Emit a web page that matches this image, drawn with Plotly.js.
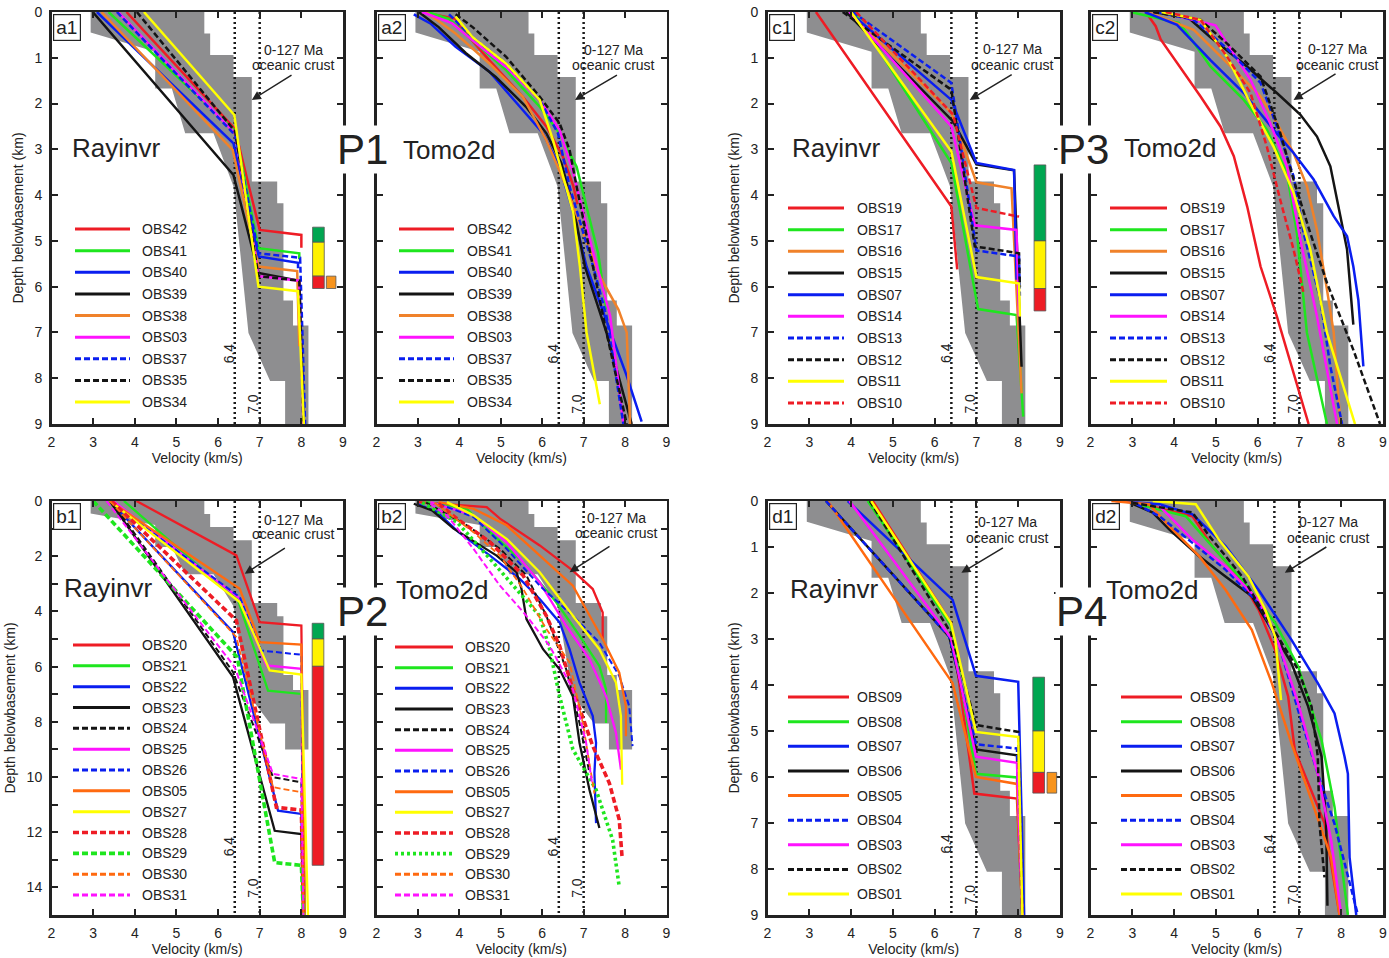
<!DOCTYPE html>
<html><head><meta charset="utf-8">
<script src="https://cdn.plot.ly/plotly-3.0.1.min.js"></script>
<style>html,body{margin:0;padding:0;background:#fff}#chart{width:1389px;height:958px}</style>
</head><body><div id="chart"></div>
<script>
// ---------------- DATA ----------------
// Envelope of 0-127 Ma oceanic crust (velocity km/s, depth km)
const envVel   = [2.94,5.67,5.67,5.81,5.81,6.37,6.37,6.81,6.81,7.42,7.42,7.57,7.57,7.80,7.80,8.17,8.17,7.61,7.61,7.25,6.73,6.37,5.89,5.21,4.89,4.49,4.49,2.94,2.94];
const envDepth = [0,0,0.47,0.47,0.94,0.94,1.42,1.42,3.70,3.70,4.18,4.18,6.30,6.30,6.85,6.85,9,9,8.06,8.06,7.01,3.81,2.65,2.65,1.67,1.67,0.87,0.45,0];
const refVel = [6.4, 7.0];

// P1 - Rayinvr (a1)
const a1Names = ['OBS42','OBS41','OBS40','OBS39','OBS38','OBS03','OBS37','OBS35','OBS34'];
const a1Vel = [
 [3.8,6.4,7.0,8.0,8.0],[3.37,6.41,6.97,7.95,7.95],[3.09,6.37,6.97,7.92,7.92],[2.99,6.37,6.97,7.95,8.06],
 [3.2,6.35,6.97,7.9,7.95],[3.6,6.41,6.97,7.95,8.05],[3.57,6.41,6.97,7.97,8.09],[4.05,6.41,6.97,7.95,8.05],[4.22,6.39,6.97,7.92,8.06]];
const a1Depth = [
 [0,2.55,4.76,4.87,5.15],[0,2.6,5.16,5.27,5.4],[0,2.87,5.34,5.48,5.6],[0,3.56,5.7,5.87,9],
 [0,3.01,5.56,5.66,7.3],[0,2.65,5.77,5.87,9],[0,2.69,5.27,5.37,9],[0,2.61,5.77,5.87,9],[0,2.25,6.0,6.1,9]];

// P1 - Tomo2d (a2)
const a2Names = a1Names;
const a2Vel = [
 [3.1,3.91,4.0,4.72,5.53,6.1,6.5,6.75,6.85],
 [3.23,3.75,4.32,5.13,5.94,6.42,6.83,7.07,7.35,7.55],
 [2.9,3.3,3.91,4.72,5.53,6.02,6.42,6.75,7.07,7.55,8.04,8.4],
 [3.02,3.5,4.16,4.88,5.61,6.1,6.46,6.75,7.03,7.55,8.16],
 [3.19,3.91,4.72,5.53,6.1,6.58,6.99,7.39,7.84,8.04,8.12],
 [3.1,3.83,4.32,5.13,5.94,6.42,6.75,7.15,7.64,7.96],
 [3.75,4.32,5.13,5.94,6.38,6.66,7.23,7.55,7.96],
 [3.91,4.32,5.13,5.94,6.42,6.66,6.83,7.23,7.55,8.04],
 [3.91,4.32,5.13,5.94,6.26,6.75,6.91,7.07,7.39]];
const a2Depth = [
 [0,0.15,0.3,1.05,1.85,2.5,3.16,3.8,4.2],
 [0,0.15,0.62,1.27,2.07,2.65,3.38,4.25,5.27,6.5],
 [0.05,0.25,0.76,1.3,2.14,2.65,3.38,4.39,5.56,6.72,7.95,8.95],
 [0,0.33,0.9,1.42,2.07,2.65,3.3,4.25,5.56,7.0,9],
 [0,0.47,1.12,1.85,2.8,3.81,4.83,5.77,6.5,7.0,9],
 [0,0.25,0.62,1.2,1.92,2.58,3.52,4.97,6.64,9],
 [0.05,0.55,1.13,1.92,2.65,3.81,5.56,6.64,9],
 [0.05,0.33,0.98,1.85,2.43,3.01,3.81,5.56,7.0,9],
 [0.1,0.55,1.13,1.92,2.8,4.39,5.56,7.0,8.57]];

// P3 - Rayinvr (c1)
const c1Names = ['OBS19','OBS17','OBS16','OBS15','OBS07','OBS14','OBS13','OBS12','OBS11','OBS10'];
const c1Vel = [
 [3.16,6.4,6.54],[4.08,6.4,7.04,7.96,8.12],[3.95,6.4,7.0,7.84,8.08],[3.88,6.44,7.0,7.9,8.08],[3.96,6.4,7.0,7.9,7.96],
 [3.96,6.4,6.96,7.96,8.02],[4.04,6.4,7.0,8.02,8.04],[3.8,6.4,6.96,8.02,8.04],[4.0,6.4,7.0,8.02,8.04],[4.12,6.44,7.0,8.02]];
const c1Depth = [
 [0,4.25,5.62],[0,3.3,6.49,6.62,8.84],[0,2.2,3.72,3.85,8.33],[0,2.39,3.33,3.46,7.75],[0,1.92,3.3,3.45,5.85],
 [0,2.5,4.66,4.76,6.65],[0,1.55,5.21,5.34,6.2],[0,1.7,5.12,5.27,6.0],[0,3.05,5.79,5.93,6.65],[0,2.24,4.28,4.47]];

// P3 - Tomo2d (c2)
const c2Names = c1Names;
const c2Vel = [
 [3.32,3.56,3.68,4.07,4.63,5.11,5.43,5.75,6.07,6.46,6.86,7.22],
 [2.96,4.11,4.31,4.87,5.67,6.22,6.7,6.94,7.18,7.66],
 [3.36,4.47,5.27,6.07,6.46,6.86,7.18,7.42,7.66,7.82,7.98],
 [3.52,4.35,4.87,5.67,6.46,7.02,7.42,7.74,7.98,8.14,8.29],
 [3.3,4.07,4.87,5.67,6.38,6.86,7.34,7.82,8.14,8.29,8.41,8.53],
 [3.68,4.99,5.27,5.83,6.3,6.7,7.02,7.42,7.9],
 [3.6,4.47,5.27,6.07,6.46,6.86,7.1,7.5,7.74,8.02],
 [3.5,4.63,5.27,6.07,6.54,6.86,7.26,7.66,8.29,8.93],
 [3.7,4.63,5.27,5.9,6.38,6.86,7.26,7.66,8.33],
 [3.8,4.63,5.27,5.83,6.22,6.54,6.86,7.1]];
const c2Depth = [
 [0,0.31,0.6,1.11,1.84,2.5,3.15,4.25,5.56,6.65,7.89,9],
 [0,0.24,0.46,1.19,1.92,2.57,3.52,4.83,7.01,9],
 [0,0.39,1.11,1.84,2.43,3.08,3.81,4.76,6.07,7.0,9],
 [0,0.13,0.55,1.13,1.77,2.24,2.72,3.37,4.46,5.19,6.83],
 [0,0.28,1.05,1.77,2.57,3.08,3.66,4.46,4.9,5.56,6.29,7.74],
 [0,0.29,0.69,1.48,2.43,3.37,4.97,6.65,9],
 [0,0.17,0.8,1.55,2.5,3.59,4.83,6.29,7.74,9],
 [0,0.17,0.69,1.41,2.64,3.66,4.83,5.92,7.38,9],
 [0,0.17,0.98,2.13,2.94,3.95,5.19,7.01,9],
 [0,0.17,0.98,1.77,2.94,4.1,5.19,6.14]];

// P2 - Rayinvr (b1)
const b1Names = ['OBS20','OBS21','OBS22','OBS23','OBS24','OBS25','OBS26','OBS05','OBS27','OBS28','OBS29','OBS30','OBS31'];
const b1Vel = [
 [4.04,6.44,7.0,8.0,8.08],[3.74,6.48,7.2,8.0,8.08],[3.4,6.36,7.44,8.0,8.05],[3.4,6.36,7.36,8.0,8.05],
 [3.44,6.36,7.32,8.0,8.05],[3.48,6.52,7.16,8.0,8.05],[3.4,6.52,7.04,8.0,8.05],[3.4,6.52,7.0,8.0,8.08],
 [3.4,6.52,7.24,8.0,8.16],[3.44,6.44,7.4,8.0,8.05],[3.0,6.46,7.36,8.0,8.05],[3.4,6.44,7.32,8.0,8.05],[3.32,6.4,7.32,8.0,8.05]];
const b1Depth = [
 [0,1.97,4.39,4.51,15],[0,3.6,6.87,6.99,15],[0,4.75,11.22,11.34,15],[0,6.38,11.95,12.07,15],
 [0,6.2,10.01,10.19,15],[0,3.54,5.96,6.08,15],[0,3.48,5.42,5.57,15],[0,3.18,5.11,5.2,15],
 [0,3.66,6.14,6.29,15],[0,4.33,11.1,11.2,15],[0,5.66,13.1,13.2,15],[0,4.93,10.37,10.55,15],[0,6.02,9.89,10.07,15]];

// P2 - Tomo2d (b2)
const b2Names = b1Names;
const b2Vel = [
 [2.98,4.66,4.98,5.94,6.74,7.22,7.46,7.46],
 [3.2,4.18,4.74,5.54,6.34,6.9,7.38,7.54,7.54],
 [2.98,3.46,3.98,4.74,5.46,5.94,6.42,6.66,6.9,7.22,7.3,7.26,7.3],
 [2.9,3.34,3.86,4.5,4.9,5.38,5.5,5.62,6.02,6.42,6.74,6.9,7.14,7.38],
 [3.2,4.18,4.98,5.62,6.1,6.58,6.9,7.14],
 [3.3,4.34,5.14,5.94,6.58,7.14,7.54,7.78,7.9],
 [3.5,4.34,5.14,5.94,6.74,7.38,7.86,8.1,8.18],
 [3.5,4.34,5.14,5.94,6.74,7.46,7.86,8.02,8.02],
 [3.7,4.34,5.14,5.94,6.74,7.38,7.78,7.9,7.93],
 [3.5,3.94,4.74,5.54,6.1,6.42,6.74,7.22,7.62,7.86,7.93],
 [3.1,3.94,4.74,5.3,5.94,6.18,6.42,6.74,7.3,7.7,7.86],
 [3.4,4.34,4.98,5.54,6.1,6.66,6.98,7.22,7.26],
 [3.3,3.7,4.34,4.98,5.62,6.18,6.74,7.06,7.2]];
const b2Depth = [
 [0.04,0.22,0.64,1.61,2.52,3.19,4.04,5.0],
 [0.04,0.28,1.13,2.22,3.67,4.88,5.98,6.82,8.04],
 [0.1,0.4,1.13,1.98,2.82,3.55,4.4,5.37,6.58,7.79,8.76,9.85,11.67],
 [0.1,0.34,1.0,1.61,1.98,2.58,3.19,4.28,5.37,6.1,7.07,8.76,10.46,11.85],
 [0.06,0.88,1.73,2.7,4.16,6.1,8.04,9.85],
 [0.04,0.52,1.49,2.95,4.52,5.73,7.07,8.4,9.73],
 [0.1,0.58,1.73,3.07,4.16,5.13,6.34,7.43,8.88],
 [0.04,0.28,0.88,1.98,3.07,5.0,6.22,7.43,8.52],
 [0.04,0.52,1.37,2.58,4.16,5.37,6.58,7.79,10.28],
 [0.1,0.64,1.49,2.7,4.16,5.25,6.82,8.88,10.22,11.55,12.95],
 [0.06,0.76,2.1,3.07,4.16,5.37,7.07,9.0,10.46,12.28,13.98],
 [0.06,1.13,1.98,3.19,4.64,5.85,8.04,10.22,10.6],
 [0.1,0.52,1.73,3.07,4.16,5.25,6.82,8.76,10.2]];

// P4 - Rayinvr (d1)
const d1Names = ['OBS09','OBS08','OBS07','OBS06','OBS05','OBS04','OBS03','OBS02','OBS01'];
const d1Vel = [
 [4.52,6.39,6.95,7.97,8.1],[4.4,6.39,6.99,7.97,8.1],[3.92,6.43,6.99,8.0,8.14],[3.4,6.35,6.99,7.97,8.1],
 [3.44,6.43,6.99,7.97,8.1],[3.4,6.35,6.99,7.97,8.1],[3.96,6.39,6.99,7.97,8.1],[4.45,6.39,6.99,8.0,8.1],[4.48,6.39,6.99,8.0,8.1]];
const d1Depth = [
 [0,2.65,6.36,6.47,9],[0,2.7,5.93,6.01,9],[0,2.15,3.8,3.93,9],[0,2.95,5.4,5.53,9],
 [0,3.96,6.0,6.15,9],[0,2.95,5.29,5.38,9],[0,2.98,5.56,5.69,9],[0,2.87,4.87,5.02,9],[0,2.65,5.02,5.13,9]];

// P4 - Tomo2d (d2)
const d2Names = d1Names;
const d2Vel = [
 [3.1,4.44,4.91,5.55,6.02,6.42,6.73,6.89,7.6,7.96],
 [3.0,4.28,4.84,5.63,6.42,6.97,7.53,7.84,8.16],
 [2.6,3.65,4.44,5.23,6.02,6.81,7.44,7.84,8.08,8.16,8.2,8.36],
 [2.95,3.49,3.89,4.6,5.23,5.86,6.34,6.81,7.21,7.53,7.64,7.67],
 [2.5,3.4,3.89,4.6,5.23,5.86,6.34,6.81,7.29,7.76,7.96],
 [3.1,3.65,4.44,5.23,6.02,6.5,6.97,7.44,7.84,8.4],
 [3.65,4.44,5.23,6.02,6.5,6.97,7.44,7.76,8.0],
 [3.0,4.44,4.84,5.63,6.34,6.97,7.29,7.44,7.48,7.6],
 [3.49,4.52,5.07,5.78,6.18,6.42,6.5,6.56]];
const d2Depth = [
 [0.04,0.33,0.98,1.64,2.36,3.24,4.25,5.42,7.0,9],
 [0.04,0.33,0.91,1.71,2.65,3.6,5.2,6.65,9],
 [0,0.07,0.29,0.98,1.93,3.02,3.96,4.62,5.56,5.93,7.75,9],
 [0.04,0.25,0.62,1.2,1.64,2.07,2.8,3.53,4.47,5.56,7.02,8.8],
 [0,0.07,0.55,1.2,1.93,2.8,3.96,5.27,6.51,7.75,9],
 [0.07,0.33,0.91,1.49,2.22,3.09,4.55,5.93,7.02,9],
 [0.11,0.84,1.42,2.15,3.09,4.4,5.93,7.38,9],
 [0.04,0.25,0.76,1.64,2.73,3.67,4.47,5.56,7.02,8.18],
 [0,0.07,0.84,1.64,2.36,2.95,3.75,4.33]];

// Layer colour bars (velocity from/to, depth from/to, colour key)
const a1Bars = [[8.27,8.55,4.70,5.03,'g'],[8.27,8.55,5.03,5.77,'y'],[8.27,8.55,5.77,6.04,'r'],[8.60,8.83,5.77,6.04,'o']];
const c1Bars = [[8.38,8.66,3.34,5.00,'g'],[8.38,8.66,5.00,6.04,'y'],[8.38,8.66,6.04,6.53,'r']];
const b1Bars = [[8.26,8.54,4.43,5.00,'g'],[8.26,8.54,5.00,5.99,'y'],[8.26,8.54,5.99,13.2,'r']];
const d1Bars = [[8.35,8.63,3.83,5.00,'g'],[8.35,8.63,5.00,5.90,'y'],[8.35,8.63,5.90,6.35,'r'],[8.69,8.92,5.90,6.35,'o']];

// ---------------- STYLES ----------------
const COL = {r:'#ee1c25', g:'#1ee61e', b:'#0a1ef0', k:'#141414', o:'#f0822a', O:'#ff6a10', m:'#ff12ff', y:'#ffff00'};
const BARCOL = {g:'#00a651', y:'#fff200', r:'#ed1c24', o:'#f7941d'};
const DASH = {s:'solid', d:'6px,3px', t:'3px,3px'};
const a1Style = ['r s','g s','b s','k s','o s','m s','b d','k d','y s'];
const c1Style = ['r s','g s','o s','k s','b s','m s','b d','k d','y s','r d'];
const b1Style = ['r s','g s','b s','k s','k d','m s','b d','O s','y s','r d','g d','O d','m d'];
const b2Style = ['r s','g s','b s','k s','k d','m s','b d','O s','y s','r d','g t','O d','m d'];
const d1Style = ['r s','g s','b s','k s','O s','b d','m s','k d','y s'];
const b1Width = [2.3,2.3,2.3,2.3,2,2.3,2,2.3,2.3,3.6,3.6,1.8,2];

const FONT = '"Liberation Sans", Arial, Helvetica, sans-serif';
const TXT = '#222';
const W = 1389, H = 958;
const COLS = [[51.5,343],[376.5,666.5],[767.5,1060],[1090.5,1383]];
const ROWS = [[12,424],[501,915]];

const panels = [
 {n:1,c:0,r:0,lab:'a1',max:9, names:a1Names,vel:a1Vel,dep:a1Depth,sty:a1Style,bars:a1Bars,meth:'Rayinvr',mx:70,my:148,
  leg:[75,130,140,229,402], crust:[7.8,0.82,1.16], arr:[7.8,1.36,6.81,1.92]},
 {n:2,c:1,r:0,lab:'a2',max:9, names:a2Names,vel:a2Vel,dep:a2Depth,sty:a1Style,bars:[],meth:'Tomo2d',mx:401,my:150,
  leg:[399,454,465,229,402], crust:[7.73,0.82,1.16], arr:[7.84,1.36,6.79,1.92]},
 {n:3,c:2,r:0,lab:'c1',max:9, names:c1Names,vel:c1Vel,dep:c1Depth,sty:c1Style,bars:c1Bars,meth:'Rayinvr',mx:790,my:148,
  leg:[788,844,855,208,403], crust:[7.86,0.8,1.15], arr:[7.88,1.35,6.84,1.92]},
 {n:4,c:3,r:0,lab:'c2',max:9, names:c2Names,vel:c2Vel,dep:c2Depth,sty:c1Style,bars:[],meth:'Tomo2d',mx:1122,my:148,
  leg:[1110,1167,1178,208,403], crust:[7.9,0.8,1.15], arr:[7.9,1.33,6.86,1.92]},
 {n:5,c:0,r:1,lab:'b1',max:15,names:b1Names,vel:b1Vel,dep:b1Depth,sty:b1Style,wid:b1Width,bars:b1Bars,meth:'Rayinvr',mx:62,my:588,
  leg:[73,130,140,645,895], crust:[7.8,0.68,1.2], arr:[7.64,1.67,6.64,2.64]},
 {n:6,c:1,r:1,lab:'b2',max:15,names:b2Names,vel:b2Vel,dep:b2Depth,sty:b2Style,wid:b1Width,bars:[],meth:'Tomo2d',mx:394,my:590,
  leg:[395,453,463,647,895], crust:[7.8,0.62,1.17], arr:[7.66,1.61,6.66,2.58]},
 {n:7,c:2,r:1,lab:'d1',max:9, names:d1Names,vel:d1Vel,dep:d1Depth,sty:d1Style,bars:d1Bars,meth:'Rayinvr',mx:788,my:589,
  leg:[788,849,855,697,894], crust:[7.74,0.45,0.8], arr:[7.67,1.0,6.64,1.56]},
 {n:8,c:3,r:1,lab:'d2',max:9, names:d2Names,vel:d2Vel,dep:d2Depth,sty:d1Style,bars:[],meth:'Tomo2d',mx:1104,my:590,
  leg:[1121,1182,1188,697,894], crust:[7.7,0.45,0.8], arr:[7.68,0.98,6.65,1.56]}
];

const px = v => v / W, py = v => 1 - v / H;
const traces = [], shapes = [], annotations = [];
const layout = {
  width: W, height: H, margin: {l:0, r:0, t:0, b:0}, paper_bgcolor:'#fff', plot_bgcolor:'#fff',
  showlegend: false, font: {family: FONT, color: TXT, size: 14}
};

panels.forEach(p => {
  const xs = p.n === 1 ? 'x' : 'x' + p.n, ys = p.n === 1 ? 'y' : 'y' + p.n;
  const xk = p.n === 1 ? 'xaxis' : 'xaxis' + p.n, yk = p.n === 1 ? 'yaxis' : 'yaxis' + p.n;
  const cx = COLS[p.c], ry = ROWS[p.r];
  const left = p.c % 2 === 0;
  const ytv = [], ytt = [];
  for (let i = 0; i <= p.max; i++) { ytv.push(i); ytt.push(p.max === 15 && i % 2 ? '' : String(i)); }
  layout[xk] = {
    domain: [px(cx[0]), px(cx[1])], range: [2, 9], anchor: ys,
    tickvals: [2,3,4,5,6,7,8,9], ticks: 'inside', ticklen: 6, tickwidth: 2, tickcolor: '#222',
    showline: true, linewidth: 2.5, linecolor: '#222', mirror: 'allticks', showgrid: false, zeroline: false,
    tickfont: {size: 14, color: TXT}, ticklabelstandoff: 4,
    title: {text: 'Velocity (km/s)', font: {size: 14, color: TXT}, standoff: 4}
  };
  layout[yk] = {
    domain: [py(ry[1]), py(ry[0])], range: [p.max, 0], anchor: xs,
    tickvals: ytv, ticktext: ytt, ticks: 'inside', ticklen: 6, tickwidth: 2, tickcolor: '#222',
    showline: true, linewidth: 2.5, linecolor: '#222', mirror: 'allticks', showgrid: false, zeroline: false,
    showticklabels: left, tickfont: {size: 14, color: TXT}, ticklabelstandoff: 4,
    title: left ? {text: 'Depth belowbasement (km)', font: {size: 14, color: TXT}, standoff: 8} : {text: ''}
  };
  // envelope
  traces.push({x: envVel, y: envDepth, xaxis: xs, yaxis: ys, mode: 'lines', fill: 'toself',
    fillcolor: '#8e8e90', line: {width: 0, color: '#8e8e90'}, hoverinfo: 'skip'});
  // reference velocity lines
  refVel.forEach(v => traces.push({x: [v, v], y: [0, p.max], xaxis: xs, yaxis: ys, mode: 'lines',
    line: {color: '#1a1a1a', width: 2.5, dash: '2px,3px'}, hoverinfo: 'skip'}));
  // series
  p.names.forEach((nm, i) => {
    const [ck, dk] = p.sty[i].split(' ');
    const w = p.wid ? p.wid[i] : 2.5;
    traces.push({x: p.vel[i], y: p.dep[i], xaxis: xs, yaxis: ys, mode: 'lines', name: nm,
      line: {color: COL[ck], width: w, dash: DASH[dk]}});
    // manual legend entry
    const L = p.leg, yy = L[3] + i * (L[4] - L[3]) / (p.names.length - 1);
    shapes.push({type: 'line', xref: 'paper', yref: 'paper', x0: px(L[0]), x1: px(L[1]), y0: py(yy), y1: py(yy),
      line: {color: COL[ck], width: Math.max(3, w), dash: DASH[dk]}});
    annotations.push({xref: 'paper', yref: 'paper', x: px(L[2]), y: py(yy), xanchor: 'left', yanchor: 'middle',
      text: nm, showarrow: false, font: {size: 14, color: TXT}});
  });
  // layer bars
  p.bars.forEach(b => shapes.push({type: 'rect', xref: xs, yref: ys, x0: b[0], x1: b[1], y0: b[2], y1: b[3],
    fillcolor: BARCOL[b[4]], line: {color: '#555', width: 0.8}, layer: 'above'}));
  // panel label
  annotations.push({xref: 'paper', yref: 'paper', x: px(cx[0] + 1.5), y: py(ry[0] + 1.5), xanchor: 'left', yanchor: 'top',
    text: p.lab, showarrow: false, font: {size: 19, color: TXT}, bgcolor: '#fff', bordercolor: '#222', borderwidth: 1.2, borderpad: 2});
  // method label
  annotations.push({xref: 'paper', yref: 'paper', x: px(p.mx), y: py(p.my), xanchor: 'left', yanchor: 'middle',
    text: p.meth, showarrow: false, font: {size: 26, color: TXT}});
  // crust text & arrow
  annotations.push({xref: xs, yref: ys, x: p.crust[0], y: p.crust[1], text: '0-127 Ma', showarrow: false,
    xanchor: 'center', yanchor: 'middle', font: {size: 14, color: TXT}});
  annotations.push({xref: xs, yref: ys, x: p.crust[0], y: p.crust[2], text: 'oceanic crust', showarrow: false,
    xanchor: 'center', yanchor: 'middle', font: {size: 14, color: TXT}});
  annotations.push({xref: xs, yref: ys, axref: xs, ayref: ys, x: p.arr[2], y: p.arr[3], ax: p.arr[0], ay: p.arr[1],
    text: '', showarrow: true, arrowhead: 2, arrowsize: 1.2, arrowwidth: 1.5, arrowcolor: '#222'});
  // 6.4 / 7.0 labels
  const d64 = p.max === 15 ? 12.5 : 7.45, d70 = p.max === 15 ? 14.0 : 8.55;
  annotations.push({xref: xs, yref: ys, x: 6.27, y: d64, text: '6.4', textangle: -90, showarrow: false,
    xanchor: 'center', yanchor: 'middle', font: {size: 14, color: TXT}});
  annotations.push({xref: xs, yref: ys, x: 6.85, y: d70, text: '7.0', textangle: -90, showarrow: false,
    xanchor: 'center', yanchor: 'middle', font: {size: 14, color: TXT}});
});

// profile labels
const profLabels = ['P1','P2','P3','P4'];
const profX = [362, 362, 1083, 1081], profY = [150, 611, 150, 611];
profLabels.forEach((t, i) => annotations.push({xref: 'paper', yref: 'paper', x: px(profX[i]), y: py(profY[i]),
  xanchor: 'center', yanchor: 'middle',
  text: t, showarrow: false, font: {size: 42, color: TXT}, bgcolor: '#fff', borderpad: 0}));

layout.shapes = shapes;
layout.annotations = annotations;
Plotly.newPlot('chart', traces, layout, {staticPlot: true, displayModeBar: false});
</script></body></html>
